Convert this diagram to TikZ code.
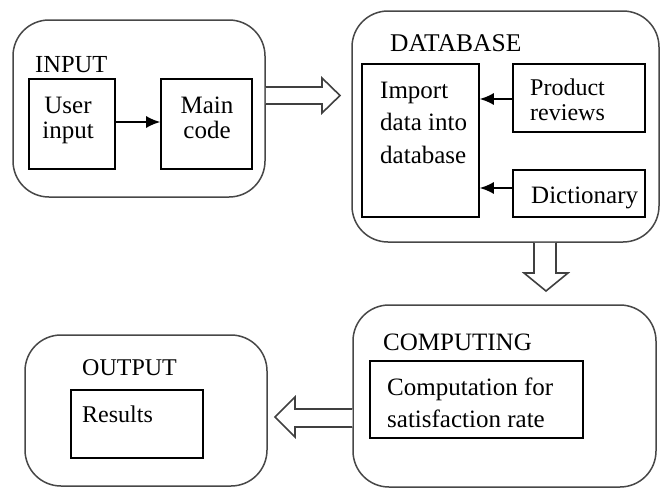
\documentclass[tikz,border=0pt]{standalone}
\usepackage{fontspec}
\setmainfont{Liberation Serif}
\usetikzlibrary{arrows.meta,calc}

\tikzset{
  group/.style={draw=black!72, line width=1.5pt, rounded corners=36pt,
                inner sep=0pt, minimum width=#1},
  stage/.style={draw=black, line width=1.6pt, inner sep=0pt},
  title/.style={anchor=base west, inner sep=0pt, font=\fontsize{#1}{28}\selectfont},
  title/.default=24,
  body/.style={inner sep=0pt, font=\fontsize{25}{#1}\selectfont},
  body/.default=32,
  link/.style={draw=black, line width=1.6pt, -{Latex[length=14pt,width=12pt]}},
  block/.style={draw=black!75, line width=1.6pt, fill=white, line join=miter}
}

\begin{document}
\begin{tikzpicture}[x=1pt,y=-1pt]
\useasboundingbox (0,0) rectangle (662,488);

% outer stage groups
\node[group=252pt, minimum height=177pt] (inp)  at (139,108.5) {};
\node[group=307pt, minimum height=231pt] (db)   at (505.5,126.5) {};
\node[group=303pt, minimum height=182pt] (comp) at (504.5,396) {};
\node[group=242pt, minimum height=151pt] (out)  at (146,410.5) {};

% group titles
\node[title=24.5] (tinp)  at (35,72)  {INPUT};
\node[title=25.5] (tdb)   at (390,51) {DATABASE};
\node[title=25]   (tcomp) at (383,350) {COMPUTING};
\node[title]      (tout)  at (82,375) {OUTPUT};

% inner boxes
\node[stage, minimum width=86pt,  minimum height=90pt]  (user) at (72,124) {};
\node[stage, minimum width=91pt,  minimum height=90pt]  (main) at (206.5,124) {};
\node[stage, minimum width=117pt, minimum height=153pt] (imp)  at (420.5,140.5) {};
\node[stage, minimum width=132pt, minimum height=68pt]  (prod) at (579,98) {};
\node[stage, minimum width=132pt, minimum height=47pt]  (dict) at (579,193.5) {};
\node[stage, minimum width=213pt, minimum height=77pt]  (cbox) at (476.5,399.5) {};
\node[stage, minimum width=132pt, minimum height=68pt]  (res)  at (137,424) {};

% box texts (anchored on the baseline of their last line)
\node[body=25, align=center, anchor=base] (tuser) at (68,138) {User\\input};
\node[body=25, align=center, anchor=base] (tmain) at (207,138) {Main\\code};
\node[body=32.5, align=left, anchor=base west] (timp) at (380,163) {Import\\data into\\database};
\node[inner sep=0pt, font=\fontsize{24}{25}\selectfont, align=left, anchor=base west] (tprod) at (530,120) {Product\\reviews};
\node[body, anchor=base west] (tdict) at (531,203) {Dictionary};
\node[body=32, align=left, anchor=base west] (tcalc) at (387,427) {Computation for\\satisfaction rate};
\node[body, anchor=base west, font=\fontsize{24}{28}\selectfont] (tres) at (82,422) {Results};

% small connectors inside the groups
\draw[link] (user.east |- 0,122) -- (main.west |- 0,122);
\draw[link] (prod.west |- 0,99) -- (imp.east |- 0,99);
\draw[link] (dict.west |- 0,188) -- (imp.east |- 0,188);

% hollow block arrows between the groups
\draw[block] (inp.east |- 0,87) -- (322,87) -- (322,78) -- (340,95.5)
  -- (322,113) -- (322,104) -- (inp.east |- 0,104);
\draw[block] (534,0 |- db.south) -- (534,273) -- (524,273) -- (546,291)
  -- (568,273) -- (556,273) -- (556,0 |- db.south);
\draw[block] (comp.west |- 0,409) -- (295,409) -- (295,397) -- (275,417)
  -- (295,437) -- (295,427) -- (comp.west |- 0,427);
\end{tikzpicture}
\end{document}
